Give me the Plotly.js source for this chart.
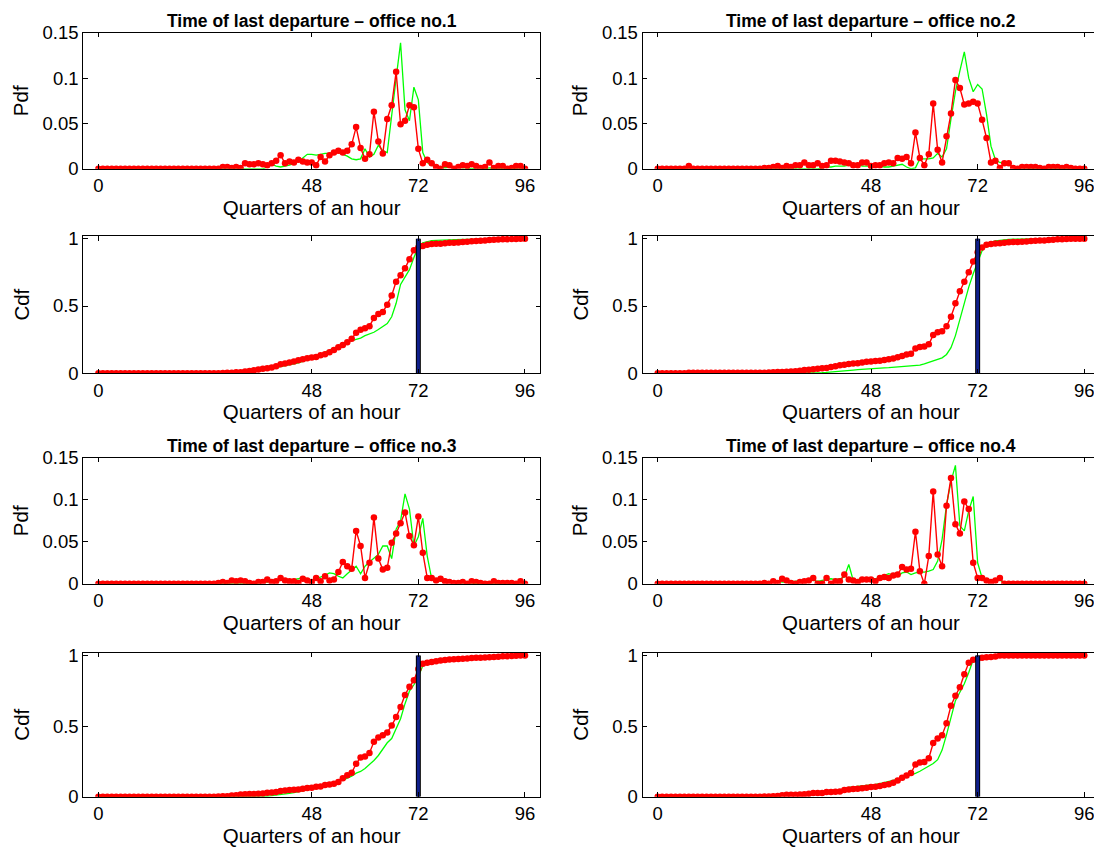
<!DOCTYPE html>
<html><head><meta charset="utf-8">
<script src="https://cdn.plot.ly/plotly-3.0.1.min.js"></script>
<style>html,body{margin:0;padding:0;background:#fff;overflow:hidden;}#chart{width:1100px;height:848px;}</style>
</head><body><div id="chart"></div>
<script>
const quarters = [0,1,2,3,4,5,6,7,8,9,10,11,12,13,14,15,16,17,18,19,20,21,22,23,24,25,26,27,28,29,30,31,32,33,34,35,36,37,38,39,40,41,42,43,44,45,46,47,48,49,50,51,52,53,54,55,56,57,58,59,60,61,62,63,64,65,66,67,68,69,70,71,72,73,74,75,76,77,78,79,80,81,82,83,84,85,86,87,88,89,90,91,92,93,94,95,96];
const xTickVals = [0,48,72,96];
const xTickText = ['0','48','72','96'];
const pdfTickVals = [0,0.05,0.1,0.15];
const pdfTickText = ['0','0.05','0.1','0.15'];
const cdfTickVals = [0,0.5,1];
const cdfTickText = ['0','0.5','1'];
const thresholdQuarter = 72;
const thresholdSpan = [0,1];
const titles = ['Time of last departure \u2013 office no.1','Time of last departure \u2013 office no.2','Time of last departure \u2013 office no.3','Time of last departure \u2013 office no.4'];

// Office 1
const pdfMeasured1 = [0,0,0,0,0,0,0,0,0,0, 0,0,0,0,0,0,0,0,0,0, 0,0,0,0,0,0,0,0,0.002,0.002,
0.001,0.002,0.001,0.006,0.005,0.005,0.006,0.005,0.004,0.006,
0.009,0.015,0.006,0.008,0.007,0.010,0.008,0.007,0.007,0.004,
0.013,0.008,0.015,0.018,0.020,0.018,0.020,0.027,0.046,0.023,
0.011,0.016,0.063,0.030,0.017,0.055,0.070,0.107,0.049,0.053,
0.070,0.068,0.022,0.006,0.010,0.006,0.002,0.000,0.005,0.004,
0.000,0.002,0.004,0.003,0.005,0.003,0.001,0.002,0.007,0.001,
0.003,0.003,0.000,0.001,0.003,0.003,0.000];
const pdfModel1 = [0,0,0,0,0,0,0,0,0,0, 0,0,0,0,0,0,0,0,0,0, 0,0,0,0,0,0,0,0,0,0,
0,0,0,0,0,0,0,0,0.002,0.005,
0.003,0.002,0.003,0.004,0.006,0.008,0.012,0.016,0.016,0.015,
0.016,0.017,0.017,0.018,0.018,0.016,0.014,0.011,0.010,0.011,
0.022,0.013,0.016,0.026,0.020,0.018,0.062,0.100,0.139,0.065,
0.053,0.090,0.076,0.018,0.007,0.004,0.002,0.002,0.001,0.002,
0.001,0.002,0.001,0.001,0.000,0.001,0.001,0.000,0.001,0.000,
0.001,0.000,0.000,0.001,0.000,0.000,0.000];
const cdfMeasured1 = [0,0,0,0,0,0,0,0,0,0, 0,0,0,0,0,0,0,0,0,0, 0,0,0,0,0,0,0,0,0.002,0.004,
0.005,0.007,0.008,0.014,0.018,0.023,0.029,0.034,0.038,0.044,
0.052,0.067,0.073,0.080,0.087,0.097,0.105,0.111,0.118,0.122,
0.135,0.142,0.157,0.174,0.194,0.211,0.231,0.257,0.301,0.324,
0.334,0.350,0.411,0.440,0.456,0.510,0.578,0.681,0.729,0.780,
0.848,0.914,0.935,0.945,0.955,0.960,0.962,0.962,0.967,0.970,
0.970,0.972,0.975,0.977,0.981,0.983,0.984,0.986,0.991,0.992,
0.994,0.996,0.996,0.997,0.998,1.000,1.000];
const cdfModel1 = [0,0,0,0,0,0,0,0,0,0, 0,0,0,0,0,0,0,0,0,0, 0,0,0,0,0,0,0,0,0,0,
0.002,0.004,0.006,0.009,0.012,0.016,0.020,0.025,0.030,0.036,
0.042,0.049,0.056,0.063,0.070,0.078,0.087,0.097,0.110,0.126,
0.142,0.158,0.174,0.190,0.206,0.222,0.234,0.243,0.252,0.262,
0.280,0.292,0.305,0.325,0.345,0.370,0.420,0.520,0.660,0.720,
0.770,0.860,0.940,0.970,0.980,0.985,0.988,0.990,0.991,0.992,
0.993,0.994,0.995,0.995,0.996,0.996,0.997,0.997,0.998,0.998,
0.999,0.999,1.000,1.000,1.000,1.000,1.000];

// Office 2
const pdfMeasured2 = [0,0,0,0,0,0,0,0.003,0,0, 0,0,0,0,0,0,0,0,0,0, 0,0,0,0,0.001,0.001,0.002,0.003,0.001,0.003,
0.002,0.004,0.004,0.007,0.004,0.004,0.006,0.003,0.004,0.009,
0.009,0.008,0.007,0.006,0.004,0.004,0.007,0.007,0.003,0.004,
0.004,0.006,0.007,0.006,0.012,0.011,0.013,0.006,0.040,0.012,
0.004,0.016,0.072,0.021,0.007,0.036,0.061,0.098,0.089,0.071,
0.072,0.074,0.072,0.054,0.034,0.007,0.009,0.001,0.006,0.006,
0.001,0.000,0.002,0.002,0.002,0.002,0.001,0.000,0.002,0.002,
0.002,0.001,0.002,0.001,0.000,0.000,0.000];
const pdfModel2 = [0,0,0,0,0,0,0,0,0,0, 0,0,0,0,0,0,0,0,0,0, 0,0,0,0,0,0,0,0,0,0,
0,0,0,0,0,0,0,0.001,0.002,0.002,
0.003,0.003,0.003,0.004,0.004,0.005,0.003,0.003,0.003,0.002,
0.003,0.002,0.002,0.003,0.004,0.005,0.002,0.000,0.001,0.011,
0.011,0.011,0.012,0.017,0.013,0.022,0.055,0.085,0.108,0.129,
0.100,0.085,0.093,0.088,0.060,0.025,0.010,0.007,0.006,0.004,
0.002,0.001,0.001,0.001,0,0,0,0,0,0,
0,0,0,0,0,0,0];
const cdfMeasured2 = [0,0,0,0,0,0,0,0.004,0.004,0.004, 0.004,0.004,0.004,0.004,0.004,0.004,0.004,0.004,0.004,0.004,
0.004,0.004,0.004,0.004,0.005,0.006,0.007,0.009,0.010,0.012,
0.013,0.016,0.019,0.024,0.027,0.030,0.034,0.037,0.040,0.046,
0.053,0.059,0.064,0.069,0.072,0.075,0.080,0.085,0.088,0.091,
0.094,0.099,0.105,0.110,0.120,0.129,0.140,0.145,0.185,0.196,
0.200,0.215,0.285,0.305,0.312,0.350,0.420,0.520,0.610,0.680,
0.750,0.830,0.900,0.935,0.955,0.960,0.965,0.966,0.970,0.973,
0.975,0.976,0.978,0.980,0.982,0.984,0.986,0.987,0.990,0.992,
0.995,0.996,0.998,0.999,1.000,1.000,1.000];
const cdfModel2 = [0,0,0,0,0,0,0,0,0,0, 0,0,0,0,0,0,0,0,0,0, 0,0,0,0,0,0,0,0,0,0,
0,0,0,0,0.001,0.002,0.003,0.005,0.007,0.009,
0.012,0.015,0.018,0.021,0.024,0.027,0.030,0.032,0.035,0.037,
0.039,0.041,0.042,0.044,0.046,0.049,0.051,0.052,0.053,0.060,
0.070,0.080,0.090,0.100,0.115,0.140,0.190,0.280,0.400,0.530,
0.640,0.740,0.830,0.910,0.955,0.975,0.983,0.988,0.992,0.995,
0.997,0.998,0.999,1,1,1,1,1,1,1,
1,1,1,1,1,1,1];

// Office 3
const pdfMeasured3 = [0,0,0,0,0,0,0,0,0,0, 0,0,0,0,0,0,0,0,0,0, 0,0,0,0,0,0,0,0.001,0.002,0.001,
0.004,0.003,0.004,0.003,0.001,0.000,0.002,0.002,0.005,0.002,
0.003,0.007,0.004,0.003,0.003,0.001,0.006,0.004,0.002,0.007,
0.003,0.009,0.004,0.005,0.014,0.026,0.021,0.018,0.063,0.045,
0.007,0.025,0.079,0.030,0.017,0.019,0.049,0.060,0.072,0.085,
0.057,0.046,0.080,0.037,0.007,0.007,0.004,0.006,0.003,0.002,
0.001,0.001,0.002,0.000,0.003,0.002,0.001,0.000,0.000,0.003,
0.001,0.001,0.001,0.001,0.000,0.003,0.000];
const pdfModel3 = [0,0,0,0,0,0,0,0,0,0, 0,0,0,0,0,0,0,0,0,0, 0,0,0,0,0,0,0,0,0,0,
0,0,0,0,0,0,0.001,0.002,0.002,0.003,
0.003,0.004,0.004,0.005,0.005,0.006,0.008,0.006,0.004,0.006,
0.008,0.010,0.013,0.012,0.009,0.007,0.012,0.016,0.021,0.012,
0.021,0.026,0.031,0.035,0.045,0.045,0.030,0.065,0.075,0.107,
0.089,0.045,0.056,0.078,0.033,0.006,0.004,0.003,0.002,0.002,
0.002,0.001,0.001,0.001,0.001,0,0.001,0,0,0,
0,0,0.001,0,0,0,0];
const cdfMeasured3 = [0,0,0,0,0,0,0,0,0,0, 0,0,0,0,0,0,0,0,0,0, 0,0,0,0,0,0,0,0.001,0.003,0.004,
0.008,0.011,0.015,0.018,0.019,0.019,0.021,0.023,0.028,0.030,
0.033,0.040,0.044,0.047,0.050,0.051,0.057,0.061,0.063,0.070,
0.073,0.082,0.086,0.091,0.105,0.131,0.152,0.170,0.233,0.278,
0.285,0.310,0.389,0.419,0.436,0.455,0.504,0.564,0.636,0.721,
0.778,0.824,0.904,0.941,0.948,0.955,0.959,0.965,0.968,0.971,
0.973,0.975,0.978,0.979,0.982,0.984,0.985,0.986,0.987,0.990,
0.992,0.994,0.995,0.997,0.998,1.000,1.000];
const cdfModel3 = [0,0,0,0,0,0,0,0,0,0, 0,0,0,0,0,0,0,0,0,0, 0,0,0,0,0,0,0,0,0,0,
0,0,0,0,0,0,0.001,0.003,0.005,0.008,
0.011,0.015,0.019,0.024,0.029,0.035,0.043,0.049,0.053,0.059,
0.067,0.077,0.090,0.102,0.111,0.118,0.130,0.146,0.167,0.179,
0.200,0.226,0.257,0.292,0.337,0.382,0.412,0.477,0.552,0.659,
0.748,0.793,0.849,0.927,0.960,0.966,0.970,0.973,0.975,0.977,
0.979,0.980,0.981,0.983,0.985,0.987,0.989,0.991,0.993,0.995,
0.997,0.998,0.999,1.000,1.000,1.000,1.000];

// Office 4
const pdfMeasured4 = [0,0,0,0,0,0,0,0,0,0, 0,0,0,0,0,0,0,0,0,0, 0,0,0,0,0.001,0.000,0.003,0.001,0.006,0.004,
0.001,0.000,0.002,0.003,0.004,0.007,0.000,0.000,0.007,0.000,
0.003,0.003,0.011,0.005,0.004,0.002,0.005,0.005,0.005,0.003,
0.007,0.008,0.007,0.010,0.011,0.020,0.017,0.018,0.062,0.015,
0.000,0.033,0.110,0.035,0.021,0.093,0.126,0.071,0.060,0.098,
0.089,0.025,0.007,0.007,0.004,0.002,0.004,0.007,0,0,
0,0,0,0,0,0,0,0,0,0,
0,0,0,0,0,0,0];
const pdfModel4 = [0,0,0,0,0,0,0,0,0,0, 0,0,0,0,0,0,0,0,0,0, 0,0,0,0,0.001,0.002,0.004,0.003,0.002,0.002,
0.003,0.003,0.004,0.004,0.005,0.004,0.003,0.004,0.005,0.006,
0.005,0.006,0.008,0.023,0.004,0.005,0.006,0.007,0.006,0.006,
0.008,0.010,0.012,0.010,0.009,0.013,0.014,0.011,0.013,0.014,
0.014,0.015,0.017,0.027,0.053,0.094,0.122,0.141,0.069,0.063,
0.087,0.104,0.025,0.007,0.003,0.003,0.003,0.005,0,0,
0,0,0,0,0,0,0,0,0,0,
0,0,0,0,0,0,0];
const cdfMeasured4 = [0,0,0,0,0,0,0,0,0,0, 0,0,0,0,0,0,0,0,0,0, 0,0,0,0,0.001,0.001,0.004,0.005,0.010,0.013,
0.014,0.014,0.016,0.018,0.021,0.027,0.027,0.027,0.033,0.033,
0.035,0.037,0.047,0.051,0.054,0.056,0.060,0.064,0.068,0.070,
0.076,0.083,0.089,0.098,0.115,0.135,0.150,0.168,0.228,0.242,
0.245,0.272,0.380,0.412,0.436,0.520,0.645,0.715,0.775,0.868,
0.948,0.970,0.977,0.984,0.988,0.990,0.993,1.000,1.000,1.000,
1,1,1,1,1,1,1,1,1,1,
1,1,1,1,1,1,1];
const cdfModel4 = [0,0,0,0,0,0,0,0,0,0, 0,0,0,0,0,0,0,0,0,0, 0,0,0,0,0.001,0.002,0.004,0.006,0.008,0.010,
0.012,0.014,0.016,0.019,0.022,0.025,0.028,0.031,0.035,0.039,
0.043,0.048,0.052,0.066,0.069,0.072,0.076,0.080,0.084,0.088,
0.093,0.100,0.108,0.115,0.122,0.132,0.143,0.152,0.165,0.180,
0.198,0.215,0.235,0.262,0.330,0.440,0.570,0.680,0.740,0.800,
0.880,0.970,0.993,0.997,0.998,0.999,1,1,1,1,
1,1,1,1,1,1,1,1,1,1,
1,1,1,1,1,1,1];

const W = 1100, H = 848;
const colPx = [[83.3, 540.1], [642.6, 1099.4]];
const rowPx = [[32.8, 168.8], [236.0, 373.3], [457.8, 583.8], [652.7, 796.7]];
const FONT = 'Liberation Sans, Arial, Helvetica, sans-serif';

const panels = [
  {row:0, col:0, kind:'pdf', meas:pdfMeasured1, mod:pdfModel1},
  {row:0, col:1, kind:'pdf', meas:pdfMeasured2, mod:pdfModel2},
  {row:1, col:0, kind:'cdf', meas:cdfMeasured1, mod:cdfModel1},
  {row:1, col:1, kind:'cdf', meas:cdfMeasured2, mod:cdfModel2},
  {row:2, col:0, kind:'pdf', meas:pdfMeasured3, mod:pdfModel3},
  {row:2, col:1, kind:'pdf', meas:pdfMeasured4, mod:pdfModel4},
  {row:3, col:0, kind:'cdf', meas:cdfMeasured3, mod:cdfModel3},
  {row:3, col:1, kind:'cdf', meas:cdfMeasured4, mod:cdfModel4}
];

const traces = [];
const layout = {
  width: W, height: H,
  margin: {l:0, r:0, t:0, b:0},
  paper_bgcolor: '#fff', plot_bgcolor: '#fff',
  showlegend: false,
  font: {family: FONT, color: '#000'},
  annotations: []
};

panels.forEach((p, i) => {
  const n = i + 1;
  const xa = n === 1 ? 'x' : 'x' + n;
  const ya = n === 1 ? 'y' : 'y' + n;
  const xk = n === 1 ? 'xaxis' : 'xaxis' + n;
  const yk = n === 1 ? 'yaxis' : 'yaxis' + n;
  const c = colPx[p.col], r = rowPx[p.row];
  const isPdf = p.kind === 'pdf';
  const axCommon = {
    showline: true, linecolor: '#000', linewidth: 1, mirror: 'ticks',
    ticks: 'inside', ticklen: 4.5, tickwidth: 1, tickcolor: '#000',
    showgrid: false, zeroline: false, automargin: false,
    tickfont: {family: FONT, size: 18.5, color: '#000'}
  };
  layout[xk] = Object.assign({}, axCommon, {
    domain: [c[0] / W, c[1] / W], anchor: ya,
    range: [-3.4, 99.4], tickmode: 'array', tickvals: xTickVals, ticktext: xTickText,
    title: {text: 'Quarters of an hour', font: {family: FONT, size: 20.5, color: '#000'}, standoff: 4}
  });
  layout[yk] = Object.assign({}, axCommon, {
    domain: [1 - r[1] / H, 1 - r[0] / H], anchor: xa,
    range: isPdf ? [0, 0.15] : [0, 1.02], tickmode: 'array',
    tickvals: isPdf ? pdfTickVals : cdfTickVals, ticktext: isPdf ? pdfTickText : cdfTickText,
    title: {text: isPdf ? 'Pdf' : 'Cdf', font: {family: FONT, size: 20.5, color: '#000'}, standoff: isPdf ? 8 : 17}
  });
  traces.push({x: quarters, y: p.mod, xaxis: xa, yaxis: ya, type: 'scatter', mode: 'lines',
    line: {color: '#00ff00', width: 1.3}, hoverinfo: 'skip'});
  traces.push({x: quarters, y: p.meas, xaxis: xa, yaxis: ya, type: 'scatter', mode: 'lines+markers',
    line: {color: '#ff0000', width: 1.4}, marker: {color: '#ff0000', size: 6.5}, hoverinfo: 'skip'});
  if (!isPdf) {
    traces.push({x: [thresholdQuarter, thresholdQuarter], y: thresholdSpan, xaxis: xa, yaxis: ya,
      type: 'scatter', mode: 'lines', line: {color: '#000000', width: 5}, hoverinfo: 'skip'});
    traces.push({x: [thresholdQuarter, thresholdQuarter], y: thresholdSpan, xaxis: xa, yaxis: ya,
      type: 'scatter', mode: 'lines', line: {color: '#0f1f8c', width: 3}, hoverinfo: 'skip'});
  }
});

const titleRows = [[0,0],[0,1],[2,0],[2,1]];
const titleYpx = [21.5, 21.5, 445.5, 445.5];
titles.forEach((t, k) => {
  const c = colPx[titleRows[k][1]];
  layout.annotations.push({
    text: '<b>' + t + '</b>', xref: 'paper', yref: 'paper',
    x: (c[0] + c[1]) / 2 / W, y: 1 - titleYpx[k] / H,
    xanchor: 'center', yanchor: 'middle', showarrow: false,
    font: {family: FONT, size: 17.5, color: '#000'}
  });
});

Plotly.newPlot('chart', traces, layout, {displayModeBar: false, staticPlot: true});
</script></body></html>
